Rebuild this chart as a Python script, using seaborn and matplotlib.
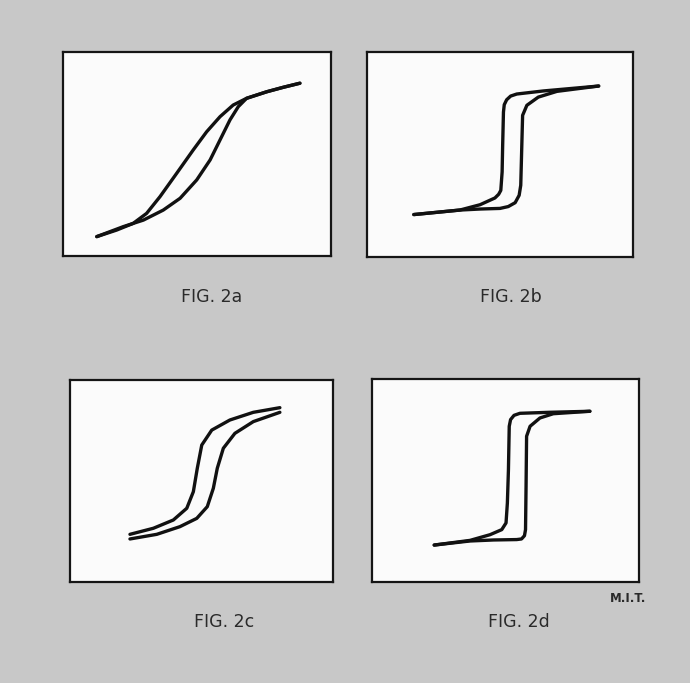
# hysteresis loops, four panels, redrawn in seaborn

import pandas as pd
import matplotlib.pyplot as plt
import seaborn as sns

# curves, in percent of each panel's frame (x right, y up)
# fig 2a
a_up_x = [12.6, 20.0, 26.2, 31.2, 36.2, 42.4, 48.6, 53.6, 58.6, 63.5, 68.5, 76.0, 82.2, 88.4]
a_up_y = [9.5, 12.7, 16.0, 20.9, 29.1, 40.5, 52.0, 60.9, 68.3, 74.0, 77.3, 80.5, 82.7, 84.7]
a_dn_x = [12.6, 22.5, 30.0, 37.4, 43.7, 49.9, 54.9, 59.2, 62.3, 65.4, 68.5, 76.0, 82.2, 88.4]
a_dn_y = [9.5, 14.4, 17.6, 22.5, 28.3, 37.3, 47.1, 58.5, 66.7, 73.2, 77.3, 80.5, 82.7, 84.7]

# fig 2b
b_up_x = [17.6, 34.9, 42.5, 48.1, 49.5, 50.3, 50.8, 51.0, 51.3, 51.6, 52.5, 54.0, 56.3,
          66.3, 87.1]
b_up_y = [20.7, 22.9, 25.5, 28.8, 30.6, 32.5, 41.5, 54.5, 70.7, 74.3, 76.7, 78.5, 79.5,
          81.0, 83.4]
b_dn_x = [17.6, 34.9, 42.5, 50.0, 53.1, 55.7, 57.2, 57.8, 58.2, 58.5, 60.1, 64.4, 71.4, 87.1]
b_dn_y = [20.7, 22.9, 23.4, 23.7, 24.6, 26.5, 30.1, 35.0, 54.5, 69.1, 74.0, 78.0, 80.8, 83.4]

# fig 2c (open loop, two separate traces)
c_up_x = [22.8, 31.7, 39.3, 44.4, 46.9, 48.4, 50.1, 53.9, 60.8, 69.7, 79.8]
c_up_y = [23.6, 26.6, 30.7, 36.5, 44.7, 56.3, 67.8, 75.2, 80.2, 84.0, 86.3]
c_dn_x = [22.8, 33.0, 41.8, 48.2, 52.2, 54.5, 56.0, 58.3, 62.7, 69.7, 79.8]
c_dn_y = [21.3, 23.6, 27.4, 31.5, 37.3, 46.4, 56.3, 66.2, 73.6, 79.4, 84.0]

# fig 2d
d_up_x = [23.3, 36.7, 44.2, 48.6, 50.2, 50.7, 51.1, 51.4, 51.9, 53.2, 55.4, 66.6, 81.6]
d_up_y = [18.2, 20.5, 23.3, 25.8, 29.1, 38.9, 55.3, 76.7, 80.0, 82.1, 83.1, 83.6, 84.1]
d_dn_x = [23.3, 36.7, 45.5, 54.2, 56.0, 57.1, 57.5, 57.7, 57.9, 59.2, 62.9, 67.9, 81.6]
d_dn_y = [18.2, 20.2, 20.7, 20.9, 21.2, 22.8, 25.8, 47.1, 71.8, 76.7, 80.8, 82.9, 84.1]

captions = ["FIG. 2a", "FIG. 2b", "FIG. 2c", "FIG. 2d"]

W, H = 690, 683
BG = "#c8c8c8"


def loop_frame(up_x, up_y, dn_x, dn_y):
    return pd.DataFrame({
        "H": up_x + dn_x,
        "B": up_y + dn_y,
        "branch": ["up"] * len(up_x) + ["down"] * len(dn_x),
    })


panels = [
    (loop_frame(a_up_x, a_up_y, a_dn_x, a_dn_y), (63, 52, 331, 256), (212, 297)),
    (loop_frame(b_up_x, b_up_y, b_dn_x, b_dn_y), (367, 52, 633, 257), (511, 297)),
    (loop_frame(c_up_x, c_up_y, c_dn_x, c_dn_y), (70, 380, 333, 582), (224, 622)),
    (loop_frame(d_up_x, d_up_y, d_dn_x, d_dn_y), (372, 379, 639, 582), (519, 622)),
]

sns.set_style("white")
plt.rcParams["font.family"] = ["DejaVu Sans"]

fig = plt.figure(figsize=(W / 100, H / 100), dpi=100)
fig.patch.set_facecolor(BG)

for (df, (l, t, r, b), (cx, cy)), cap in zip(panels, captions):
    ax = fig.add_axes([l / W, 1 - b / H, (r - l) / W, (b - t) / H])
    ax.set_facecolor("#fbfbfb")
    sns.lineplot(data=df, x="H", y="B", hue="branch", sort=False, estimator=None,
                 palette=["#111111", "#111111"], linewidth=2.4, legend=False, ax=ax)
    for line in ax.lines:
        line.set_solid_capstyle("round")
        line.set_solid_joinstyle("round")
    ax.set_xlim(0, 100)
    ax.set_ylim(0, 100)
    ax.set_xticks([])
    ax.set_yticks([])
    ax.set_xlabel("")
    ax.set_ylabel("")
    for s in ax.spines.values():
        s.set_visible(True)
        s.set_color("#151515")
        s.set_linewidth(1.6)
    fig.text(cx / W, 1 - cy / H, cap, ha="center", va="center",
             fontsize=12.5, color="#2a2a2a")

fig.text(628 / W, 1 - 598 / H, "M.I.T.", ha="center", va="center",
         fontsize=8.5, color="#2a2a2a", fontweight="bold")

plt.savefig("out.png", dpi=100, facecolor=fig.get_facecolor())
plt.close()
